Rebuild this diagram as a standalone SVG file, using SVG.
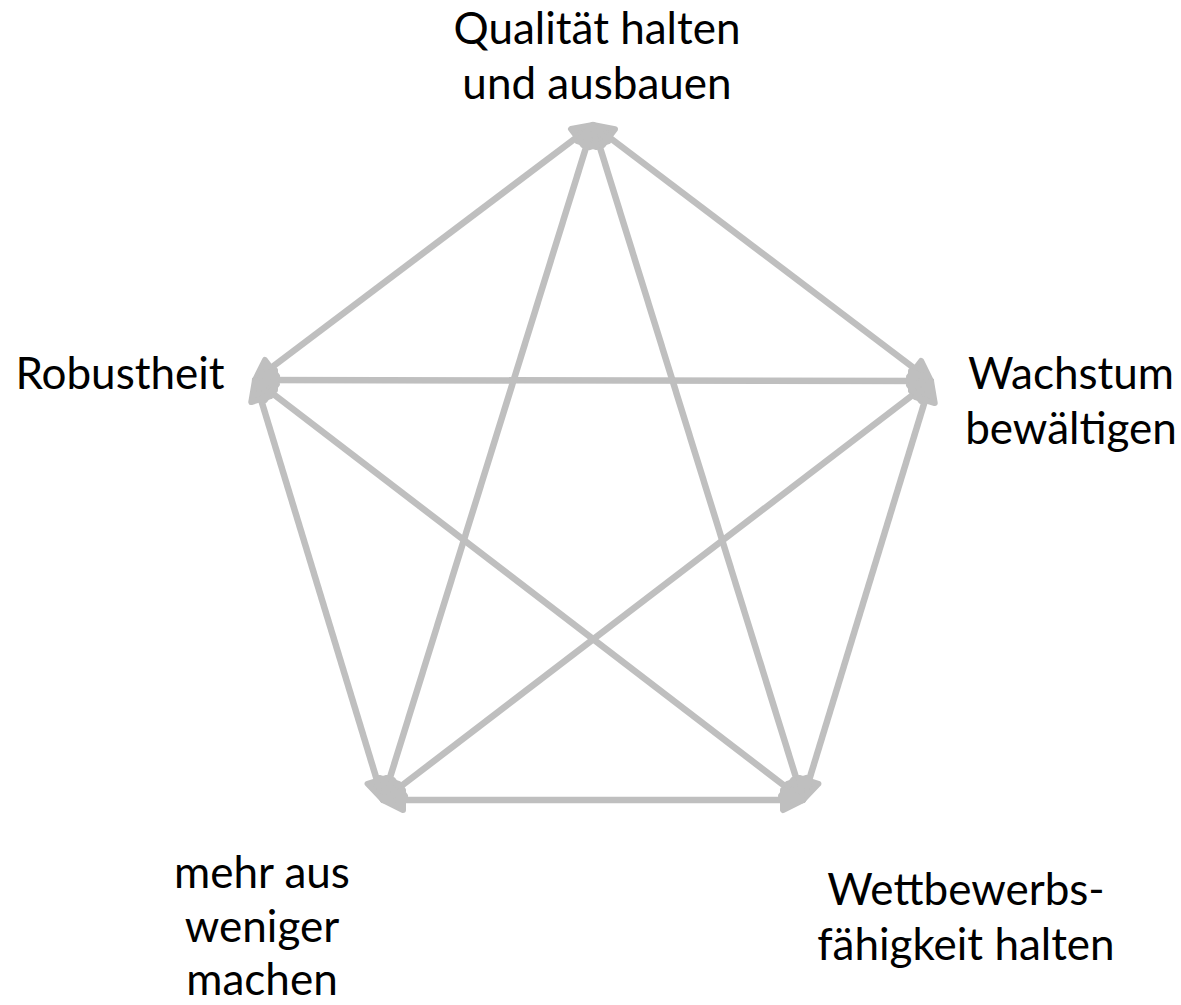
<svg xmlns="http://www.w3.org/2000/svg" width="1181" height="1005" viewBox="0 0 1181 1005">
<style>
.lbl{font-family:Lato,"Open Sans","Liberation Sans",sans-serif;font-size:44px;fill:#000;text-anchor:middle}
.edge{stroke:#BFBFBF;stroke-width:6.5;fill:none;marker-start:url(#ah);marker-end:url(#ah)}
</style>
<defs>
<marker id="ah" markerUnits="userSpaceOnUse" orient="auto-start-reverse" refX="0" refY="0" markerWidth="40" markerHeight="40" viewBox="-30 -20 40 40" overflow="visible">
<path d="M-20,-10 L0,0 L-20,10 Z" fill="#BFBFBF" stroke="#BFBFBF" stroke-width="6" stroke-linejoin="round"/>
</marker>
</defs>
<rect width="1181" height="1005" fill="#fff"/>
<g id="connectors">
<line class="edge" x1="593" y1="125" x2="931" y2="381"/>
<line class="edge" x1="593" y1="125" x2="255" y2="380"/>
<line class="edge" x1="593" y1="125" x2="803" y2="800"/>
<line class="edge" x1="593" y1="125" x2="383" y2="800"/>
<line class="edge" x1="255" y1="380" x2="931" y2="381"/>
<line class="edge" x1="255" y1="380" x2="803" y2="800"/>
<line class="edge" x1="255" y1="380" x2="383" y2="800"/>
<line class="edge" x1="931" y1="381" x2="383" y2="800"/>
<line class="edge" x1="931" y1="381" x2="803" y2="800"/>
<line class="edge" x1="383" y1="800" x2="803" y2="800"/>
</g>
<g id="node-qualitaet">
<text class="lbl" x="597" y="44">Qualität halten</text>
<text class="lbl" x="597" y="99">und ausbauen</text>
</g>
<g id="node-robustheit">
<text class="lbl" x="120" y="389">Robustheit</text>
</g>
<g id="node-wachstum">
<text class="lbl" x="1071" y="389">Wachstum</text>
<text class="lbl" x="1071" y="444">bewältigen</text>
</g>
<g id="node-mehr">
<text class="lbl" x="262" y="888">mehr aus</text>
<text class="lbl" x="262" y="942">weniger</text>
<text class="lbl" x="262" y="995">machen</text>
</g>
<g id="node-wettbewerb">
<text class="lbl" x="966" y="905">Wettbewerbs-</text>
<text class="lbl" x="966" y="960">fähigkeit halten</text>
</g>
</svg>
